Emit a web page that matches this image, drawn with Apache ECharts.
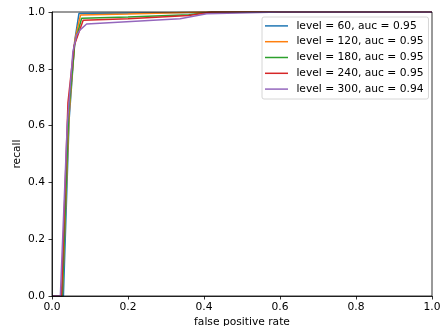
<!DOCTYPE html>
<html>
<head>
<meta charset="utf-8">
<script src="https://cdn.jsdelivr.net/npm/echarts@6/dist/echarts.min.js"></script>
<style>
html,body{margin:0;padding:0;background:#fff;}
#c{width:442px;height:326px;}
</style>
</head>
<body>
<div id="c"></div>
<script>
// Series names (legend labels)
var seriesNames = [
  'level = 60, auc = 0.95',
  'level = 120, auc = 0.95',
  'level = 180, auc = 0.95',
  'level = 240, auc = 0.95',
  'level = 300, auc = 0.94'
];
// False positive rate (x) and recall (y) per level
var fpr60  = [0, 0.030, 0.045, 0.060, 0.071, 0.300, 0.600, 1.0];
var rec60  = [0, 0.000, 0.620, 0.900, 0.995, 0.997, 1.000, 1.0];
var fpr120 = [0, 0.027, 0.045, 0.060, 0.075, 0.200, 0.400, 1.0];
var rec120 = [0, 0.000, 0.640, 0.900, 0.989, 0.993, 1.000, 1.0];
var fpr180 = [0, 0.027, 0.044, 0.060, 0.078, 0.200, 0.360, 0.420, 1.0];
var rec180 = [0, 0.000, 0.650, 0.890, 0.978, 0.982, 0.990, 1.000, 1.0];
var fpr240 = [0, 0.025, 0.042, 0.058, 0.082, 0.200, 0.360, 0.420, 1.0];
var rec240 = [0, 0.000, 0.680, 0.880, 0.971, 0.976, 0.988, 1.000, 1.0];
var fpr300 = [0, 0.022, 0.040, 0.055, 0.065, 0.074, 0.091, 0.337, 0.407, 0.600, 1.0];
var rec300 = [0, 0.000, 0.600, 0.860, 0.919, 0.937, 0.958, 0.976, 0.994, 1.000, 1.0];
// Tick labels
var tickValues = [0.0, 0.2, 0.4, 0.6, 0.8, 1.0];
var colors = ['#1f77b4', '#ff7f0e', '#2ca02c', '#d62728', '#9467bd'];

var xs = [fpr60, fpr120, fpr180, fpr240, fpr300];
var ys = [rec60, rec120, rec180, rec240, rec300];

function pairs(x, y) {
  var out = [];
  for (var i = 0; i < x.length; i++) out.push([x[i], y[i]]);
  return out;
}

var font = 'DejaVu Sans';
var fs = 10.7;
var series = seriesNames.map(function (n, i) {
  return {
    name: n,
    type: 'line',
    data: pairs(xs[i], ys[i]),
    showSymbol: false,
    symbol: 'none',
    lineStyle: { width: 1.5, color: colors[i] },
    itemStyle: { color: colors[i] },
    clip: true,
    z: 2 + i * 0.01,
    animation: false
  };
});

function axisCommon(name, gap) {
  return {
    type: 'value',
    min: 0, max: 1, interval: 0.2,
    name: name,
    nameLocation: 'middle',
    nameGap: gap,
    nameMoveOverlap: false,
    nameTextStyle: { fontFamily: font, fontSize: fs, color: '#000' },
    axisLine: { show: true, lineStyle: { color: '#000', width: 0.8 } },
    axisTick: { show: true, inside: false, length: 3.5, lineStyle: { color: '#000', width: 0.8 } },
    axisLabel: {
      fontFamily: font, fontSize: fs, color: '#000',
      formatter: function (v) { return v.toFixed(1); }
    },
    splitLine: { show: false },
    z: 5
  };
}

var xAxis = axisCommon('false positive rate', 21);
xAxis.axisLabel.margin = 6;
var yAxis = axisCommon('recall', 29);
yAxis.axisLabel.margin = 7;

var chart = echarts.init(document.getElementById('c'), null, { renderer: 'canvas' });
chart.setOption({
  animation: false,
  backgroundColor: '#fff',
  grid: {
    left: 52, right: 10, top: 12, bottom: 30,
    containLabel: false,
    outerBoundsMode: 'none',
    show: true, borderColor: '#000', borderWidth: 0.8,
    backgroundColor: 'transparent', z: 5
  },
  xAxis: xAxis,
  yAxis: yAxis,
  legend: {
    orient: 'vertical',
    left: 262, top: 17,
    padding: [1, 5, 2, 3],
    itemGap: 0,
    itemWidth: 23,
    itemHeight: 1.5,
    icon: 'rect',
    backgroundColor: 'rgba(255,255,255,0.8)',
    borderColor: '#cccccc',
    borderWidth: 0.8,
    borderRadius: 2,
    formatter: function (n) { return ' ' + n; },
    textStyle: { fontFamily: font, fontSize: fs, color: '#000', lineHeight: 15.8 },
    data: seriesNames,
    z: 10
  },
  series: series
});
</script>
</body>
</html>
